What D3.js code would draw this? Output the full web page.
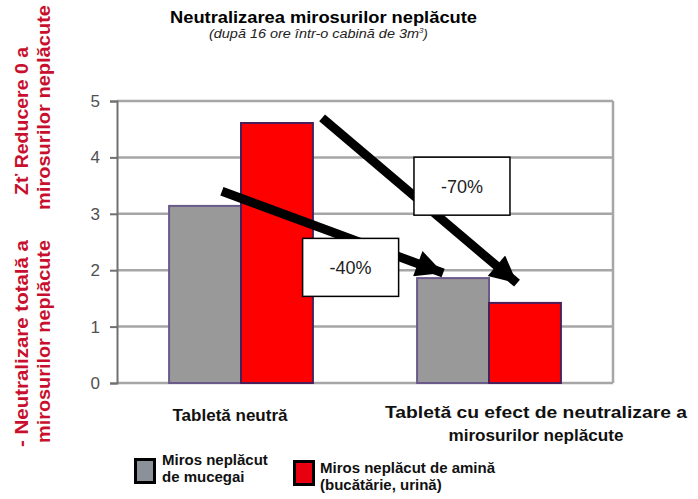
<!DOCTYPE html>
<html>
<head>
<meta charset="utf-8">
<script src="https://cdn.jsdelivr.net/npm/d3@7"></script>
<style>
  body { margin: 0; background: #fff; }
  text { font-family: "Liberation Sans", Arial, sans-serif; }
</style>
</head>
<body>
<div id="chart"></div>
<script>
var categories = ["Tabletă neutră", "Tabletă cu efect de neutralizare a|mirosurilor neplăcute"];
var seriesNames = ["Miros neplăcut|de mucegai", "Miros neplăcut de amină|(bucătărie, urină)"];
var moldValues = [3.14, 1.86];
var amineValues = [4.61, 1.42];
var yTicks = [0, 1, 2, 3, 4, 5];
// annotation arrows, in (group position 0..2, value) units
var arrowStarts = [[0.423, 3.40], [0.827, 4.70]];
var arrowEnds = [[1.315, 1.95], [1.613, 1.77]];
var boxLabels = ["-40%", "-70%"];
var boxCenters = [[0.942, 2.05], [1.391, 3.49]];

var svgWidth = 698;
var svgHeight = 499;
var margin = { top: 101, right: 85, bottom: 116, left: 117 };
var width = svgWidth - margin.left - margin.right;
var height = svgHeight - margin.top - margin.bottom;

var svg = d3.select("#chart")
  .append("svg")
  .attr("width", svgWidth)
  .attr("height", svgHeight);

var defs = svg.append("defs");
defs.append("marker")
  .attr("id", "head")
  .attr("viewBox", "0 0 10 10")
  .attr("refX", 10)
  .attr("refY", 5)
  .attr("markerUnits", "userSpaceOnUse")
  .attr("markerWidth", 28)
  .attr("markerHeight", 27)
  .attr("orient", "auto")
  .append("path")
  .attr("d", "M0,0 L10,5 L0,10 Z")
  .attr("fill", "#000");

var chartGroup = svg.append("g")
  .attr("transform", `translate(${margin.left}, ${margin.top})`);

var x0 = d3.scaleBand()
  .domain(categories)
  .range([0, width])
  .paddingInner(0.42)
  .paddingOuter(0.21);

var x1 = d3.scaleBand()
  .domain([0, 1])
  .range([0, x0.bandwidth()]);

var xPos = d3.scaleLinear().domain([0, 2]).range([0, width]);

var y = d3.scaleLinear()
  .domain([0, 5])
  .range([height, 0]);

// gridlines + frame
chartGroup.selectAll(".grid")
  .data(yTicks)
  .enter()
  .append("line")
  .attr("x1", 0)
  .attr("x2", width)
  .attr("y1", d => y(d))
  .attr("y2", d => y(d))
  .attr("stroke", "#a6a6a6")
  .attr("stroke-width", 2.5);

chartGroup.append("line")
  .attr("x1", width).attr("x2", width)
  .attr("y1", 0).attr("y2", height)
  .attr("stroke", "#a6a6a6")
  .attr("stroke-width", 2.5);

// left axis
var leftAxis = d3.axisLeft(y)
  .tickValues(yTicks)
  .tickSize(7)
  .tickPadding(10)
  .tickFormat(d3.format("d"));

var yAxis = chartGroup.append("g").call(leftAxis);
yAxis.select(".domain").attr("stroke", "#707070").attr("stroke-width", 2);
yAxis.selectAll(".tick line").attr("stroke", "#707070").attr("stroke-width", 2);
yAxis.selectAll(".tick text")
  .style("font-family", "Liberation Sans, Arial, sans-serif")
  .style("font-size", "17px")
  .attr("fill", "#505050");

// bars
var rows = categories.map(function(c, i) {
  return { cat: c, values: [moldValues[i], amineValues[i]] };
});
var fills = ["#999999", "#ff0000"];
var strokes = ["#6a5a8a", "#4a1f5a"];

var groups = chartGroup.selectAll(".group")
  .data(rows)
  .enter()
  .append("g")
  .attr("transform", d => `translate(${x0(d.cat)},0)`);

groups.selectAll("rect")
  .data(d => d.values)
  .enter()
  .append("rect")
  .attr("x", (d, i) => x1(i))
  .attr("y", d => y(d))
  .attr("width", x1.bandwidth())
  .attr("height", d => height - y(d))
  .attr("fill", (d, i) => fills[i])
  .attr("stroke", (d, i) => strokes[i])
  .attr("stroke-width", 2);

// category labels (sit a bit off the group centres, as in the source)
var labelShift = [-11, 47];
var labelLens = [[115], [302, 175]];
groups.append("text")
  .attr("text-anchor", "middle")
  .style("font-size", "17px")
  .style("font-weight", "bold")
  .attr("fill", "#111")
  .selectAll("tspan")
  .data(function(d, i) {
    var parts = d.cat.split("|");
    return parts.map(function(t, j) { return { t: t, j: j, i: i, n: parts.length }; });
  })
  .enter()
  .append("tspan")
  .attr("x", d => x0.bandwidth() / 2 + labelShift[d.i])
  .attr("y", d => d.n === 1 ? height + 38 : height + 35 + d.j * 23)
  .attr("textLength", d => labelLens[d.i][d.j])
  .attr("lengthAdjust", "spacingAndGlyphs")
  .text(d => d.t);

// arrows
chartGroup.selectAll(".arrow")
  .data(arrowStarts)
  .enter()
  .append("line")
  .attr("x1", d => xPos(d[0]))
  .attr("y1", d => y(d[1]))
  .attr("x2", (d, i) => xPos(arrowEnds[i][0]))
  .attr("y2", (d, i) => y(arrowEnds[i][1]))
  .attr("stroke", "#000")
  .attr("stroke-width", 9)
  .attr("marker-end", "url(#head)");

// percentage boxes
var boxes = chartGroup.selectAll(".box")
  .data(boxLabels)
  .enter()
  .append("g")
  .attr("transform", (d, i) => `translate(${xPos(boxCenters[i][0])},${y(boxCenters[i][1])})`);

boxes.append("rect")
  .attr("x", -48)
  .attr("y", -29)
  .attr("width", 96)
  .attr("height", 58)
  .attr("fill", "#fff")
  .attr("stroke", "#000")
  .attr("stroke-width", 1.5);

boxes.append("text")
  .attr("text-anchor", "middle")
  .attr("y", 7)
  .style("font-size", "18px")
  .attr("fill", "#222")
  .text(d => d);

// title
svg.append("text")
  .attr("x", 170)
  .attr("y", 23)
  .attr("textLength", 307)
  .attr("lengthAdjust", "spacingAndGlyphs")
  .style("font-size", "17px")
  .style("font-weight", "bold")
  .text("Neutralizarea mirosurilor neplăcute");

var sub = svg.append("text")
  .attr("x", 209)
  .attr("y", 38)
  .style("font-size", "12.5px")
  .style("font-style", "italic")
  .attr("fill", "#222");
sub.append("tspan").attr("textLength", 210).attr("lengthAdjust", "spacingAndGlyphs")
  .text("(după 16 ore într-o cabină de 3m");
sub.append("tspan").attr("dy", -5).style("font-size", "8px").text("3");
sub.append("tspan").attr("dy", 5).text(")");

// red rotated side notes
var sideNotes = [
  { text: "Zť Reducere 0 a", x: 28, y0: 195, len: 148 },
  { text: "mirosurilor neplăcute", x: 50, y0: 210, len: 205 },
  { text: "- Neutralizare totală a", x: 28, y0: 447, len: 207 },
  { text: "mirosurilor neplăcute", x: 50, y0: 443, len: 203 }
];
svg.selectAll(".side")
  .data(sideNotes)
  .enter()
  .append("text")
  .attr("transform", d => `translate(${d.x},${d.y0}) rotate(-90)`)
  .attr("textLength", d => d.len)
  .attr("lengthAdjust", "spacingAndGlyphs")
  .style("font-size", "19px")
  .style("font-weight", "bold")
  .attr("fill", "#c8102e")
  .text(d => d.text);

// legend
var legendFills = ["#8a9199", "#e8000e"];
var legendX = [134, 293];
var legendTextX = [162, 320];
var legendBase = [465, 473];
var legend = svg.selectAll(".legend")
  .data(seriesNames)
  .enter()
  .append("g");

legend.append("rect")
  .attr("x", (d, i) => legendX[i] + 1.5)
  .attr("y", (d, i) => (i === 0 ? 458 : 460) + 1.5)
  .attr("width", 19)
  .attr("height", 23)
  .attr("fill", (d, i) => legendFills[i])
  .attr("stroke", "#000")
  .attr("stroke-width", 3);

legend.append("text")
  .style("font-size", "15px")
  .style("font-weight", "bold")
  .attr("fill", "#111")
  .selectAll("tspan")
  .data((d, i) => d.split("|").map(t => ({ t: t, i: i })))
  .enter()
  .append("tspan")
  .attr("x", d => legendTextX[d.i])
  .attr("y", (d, j) => legendBase[d.i] + j * 17)
  .text(d => d.t);
</script>
</body>
</html>
